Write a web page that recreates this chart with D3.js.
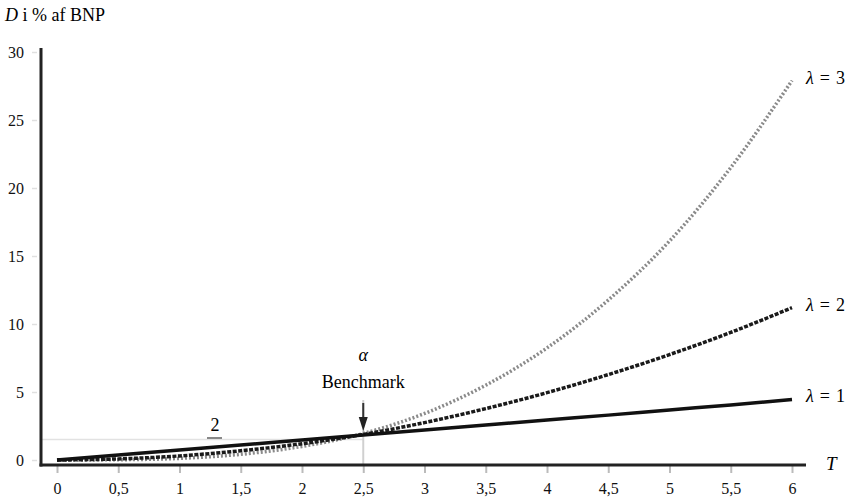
<!DOCTYPE html>
<html>
<head>
<meta charset="utf-8">
<script src="https://cdn.jsdelivr.net/npm/d3@7"></script>
<style>
  body { margin: 0; background: #fff; }
</style>
</head>
<body>
<div id="chart"></div>
<script>
// T-værdier og afbetalinger
const tValues = [0, 0.5, 1, 1.5, 2, 2.5, 3, 3.5, 4, 4.5, 5, 5.5, 6];
const lambda1 = [0, 0.37, 0.74, 1.1, 1.47, 1.83, 2.2, 2.57, 2.94, 3.3, 3.68, 4.05, 4.45];
const lambda2 = [0, 0.08, 0.3, 0.68, 1.2, 1.88, 2.75, 3.78, 4.95, 6.28, 7.75, 9.38, 11.2];
const lambda3 = [0, 0.02, 0.12, 0.42, 1.0, 1.95, 3.42, 5.5, 8.24, 11.76, 16.1, 21.5, 27.9];
const xTicks = [0, 0.5, 1, 1.5, 2, 2.5, 3, 3.5, 4, 4.5, 5, 5.5, 6];
const yTicks = [0, 5, 10, 15, 20, 25, 30];
const seriesNames = ["λ = 1", "λ = 2", "λ = 3"];
const benchmarkT = 2.5;
const benchmarkD = 1.5;

const width = 851, height = 502;
const serif = "'Times New Roman', 'Liberation Serif', 'DejaVu Serif', serif";

const svg = d3.select("#chart").append("svg")
    .attr("width", width)
    .attr("height", height)
    .style("font-family", serif);

// skalaer
const x = d3.scaleLinear().domain([0, 6]).range([57, 792]);
const y = d3.scaleLinear().domain([0, 30]).range([460, 52]);
const axisX = 41, axisY = 465;

// tynd vandret linje ved benchmark-niveau
svg.append("line")
    .attr("x1", axisX).attr("x2", x(benchmarkT))
    .attr("y1", y(benchmarkD)).attr("y2", y(benchmarkD))
    .attr("stroke", "#e2e2e2").attr("stroke-width", 1.5);

// lodret linje ved benchmark
svg.append("line")
    .attr("x1", x(benchmarkT)).attr("x2", x(benchmarkT))
    .attr("y1", 400).attr("y2", axisY)
    .attr("stroke", "#d0d0d0").attr("stroke-width", 2);

// x-akse
const xAxis = svg.append("g")
    .attr("transform", `translate(0, ${axisY})`)
    .call(d3.axisBottom(x).tickValues(xTicks).tickSize(8).tickPadding(10)
        .tickFormat(d => String(d).replace(".", ",")));
xAxis.attr("font-family", null).style("font-family", serif);
xAxis.select(".domain").remove();
xAxis.selectAll(".tick line").attr("stroke", "#bbb").attr("stroke-width", 2);
xAxis.selectAll("text").attr("font-size", 16).attr("fill", "#111");

// y-akse
const yAxis = svg.append("g")
    .attr("transform", `translate(${axisX - 4}, 0)`)
    .call(d3.axisLeft(y).tickValues(yTicks).tickSize(5).tickPadding(8));
yAxis.attr("font-family", null).style("font-family", serif);
yAxis.select(".domain").remove();
yAxis.selectAll(".tick line").attr("stroke", "#e0e0e0").attr("stroke-width", 1.5);
yAxis.selectAll("text").attr("font-size", 16).attr("fill", "#111");

// aksestreger
svg.append("line")
    .attr("x1", axisX).attr("x2", axisX)
    .attr("y1", 48).attr("y2", axisY + 1.5)
    .attr("stroke", "#222").attr("stroke-width", 3);
svg.append("line")
    .attr("x1", axisX - 1.5).attr("x2", 806)
    .attr("y1", axisY).attr("y2", axisY)
    .attr("stroke", "#222").attr("stroke-width", 3);

// kurver
const line = d3.line()
    .x((d, i) => x(tValues[i]))
    .y(d => y(d))
    .curve(d3.curveMonotoneX);

svg.append("path").datum(lambda3)
    .attr("d", line)
    .attr("fill", "none")
    .attr("stroke", "#8a8a8a")
    .attr("stroke-width", 3.5)
    .attr("stroke-dasharray", "2,2");

svg.append("path").datum(lambda2)
    .attr("d", line)
    .attr("fill", "none")
    .attr("stroke", "#1a1a1a")
    .attr("stroke-width", 3.5)
    .attr("stroke-dasharray", "4,1.5");

svg.append("path").datum(lambda1)
    .attr("d", line)
    .attr("fill", "none")
    .attr("stroke", "#111")
    .attr("stroke-width", 3.5);

// serie-etiketter
const ends = [lambda1, lambda2, lambda3].map(s => s[s.length - 1]);
svg.selectAll(".serieLabel")
    .data(seriesNames)
    .enter()
    .append("text")
    .attr("class", "serieLabel")
    .attr("x", 806)
    .attr("y", (d, i) => y(ends[i]) - 1)
    .attr("dominant-baseline", "middle")
    .attr("font-size", 18)
    .each(function(d) {
        const t = d3.select(this);
        const parts = d.split(" ");
        t.append("tspan").attr("font-style", "italic").text(parts[0]);
        t.append("tspan").attr("dx", 6).text(parts[1]);
        t.append("tspan").attr("dx", 6).text(parts[2]);
    });

// akse-titler
const yTitle = svg.append("text")
    .attr("x", 5).attr("y", 21)
    .attr("font-size", 18);
yTitle.append("tspan").attr("font-style", "italic").text("D");
yTitle.append("tspan").text(" i % af BNP");

svg.append("text")
    .attr("x", 826).attr("y", 466)
    .attr("dominant-baseline", "middle")
    .attr("font-size", 19)
    .attr("font-style", "italic")
    .text("T");

// benchmark
const bx = x(benchmarkT);
svg.append("text")
    .attr("x", bx).attr("y", 357)
    .attr("text-anchor", "middle")
    .attr("dominant-baseline", "middle")
    .attr("font-size", 18)
    .attr("font-style", "italic")
    .text("α");
svg.append("text")
    .attr("x", bx).attr("y", 384)
    .attr("text-anchor", "middle")
    .attr("dominant-baseline", "middle")
    .attr("font-size", 18)
    .text("Benchmark");

svg.append("line")
    .attr("x1", bx).attr("x2", bx)
    .attr("y1", 403).attr("y2", 420)
    .attr("stroke", "#333").attr("stroke-width", 2);
svg.append("path")
    .attr("d", `M${bx - 4.5},417 L${bx + 4.5},417 L${bx},431 Z`)
    .attr("fill", "#222");

// "2"-mærke ved den vandrette linje
svg.append("text")
    .attr("x", 215).attr("y", 427)
    .attr("text-anchor", "middle")
    .attr("dominant-baseline", "middle")
    .attr("font-size", 18)
    .text("2");
svg.append("line")
    .attr("x1", 207).attr("x2", 222)
    .attr("y1", 438).attr("y2", 438)
    .attr("stroke", "#888").attr("stroke-width", 2);
</script>
</body>
</html>
